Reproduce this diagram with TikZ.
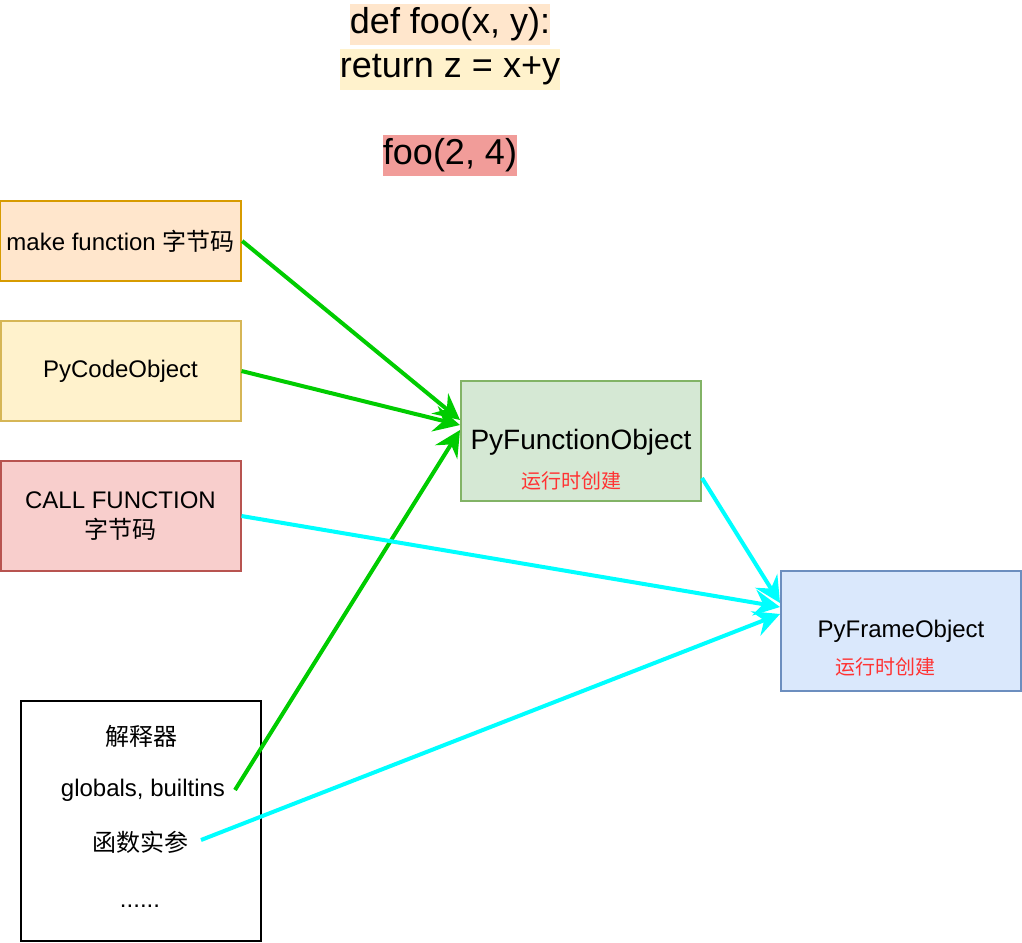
\documentclass[tikz,border=0pt]{standalone}
\usepackage{fontspec}
\setmainfont{Liberation Sans}
\newfontfamily\cjk{Noto Sans CJK SC}
\usetikzlibrary{arrows.meta}
\definecolor{orangefill}{HTML}{FFE6CC}
\definecolor{orangeline}{HTML}{D79B00}
\definecolor{yellowfill}{HTML}{FFF2CC}
\definecolor{yellowline}{HTML}{D6B656}
\definecolor{redfill}{HTML}{F8CECC}
\definecolor{redline}{HTML}{B85450}
\definecolor{greenfill}{HTML}{D5E8D4}
\definecolor{greenline}{HTML}{82B366}
\definecolor{bluefill}{HTML}{DAE8FC}
\definecolor{blueline}{HTML}{6C8EBF}
\definecolor{callbg}{HTML}{F19C99}
\definecolor{notered}{HTML}{FF3333}
\definecolor{arrgreen}{HTML}{00CC00}
\definecolor{arrcyan}{HTML}{00FFFF}
\tikzset{
  box/.style={draw, line width=1pt, minimum width=120pt, align=center, font=\fontsize{12}{15}\selectfont},
  codeline/.style={inner xsep=0pt, inner ysep=1.5pt, text height=13pt, text depth=4.5pt, font=\fontsize{18}{21}\selectfont},
  note/.style={text=notered, font=\fontsize{10}{12}\selectfont\cjk},
  item/.style={font=\fontsize{12}{15}\selectfont},
  link/.style={line width=2pt, -{Stealth[length=13pt, width=13pt, inset=4.5pt]}}
}
\begin{document}
\begin{tikzpicture}[x=0.5pt, y=-0.5pt]
\useasboundingbox (0,0) rectangle (1022,942);
% code at the top
\node[codeline, fill=orangefill] (defline) at (450,24.5) {def foo(x, y):};
\node[codeline, fill=yellowfill] (retline) at (450,69) {return z = x+y};
\node[codeline, fill=callbg] (callline) at (450,155.5) {foo(2, 4)};
% boxes on the left
\node[box, fill=orangefill, draw=orangeline, minimum height=40pt] (make) at (120.5,241) {make function {\cjk 字节码}};
\node[box, fill=yellowfill, draw=yellowline, minimum height=50pt] (code) at (120.5,371) {PyCodeObject};
\node[box, fill=redfill, draw=redline, minimum height=55pt] (call) at (120.5,516) {CALL FUNCTION\\{\cjk 字节码}};
% objects
\node[box, fill=greenfill, draw=greenline, minimum height=60pt] (func) at (581,441) {};
\node[font=\fontsize{14}{17}\selectfont] (functxt) at (581,442) {PyFunctionObject};
\node[note] (funcnote) at (571,481) {运行时创建};
\node[box, fill=bluefill, draw=blueline, minimum height=60pt] (frame) at (901,631) {};
\node[font=\fontsize{12}{15}\selectfont] (frametxt) at (901,631) {PyFrameObject};
\node[note] (framenote) at (885,667) {运行时创建};
% interpreter
\node[draw, line width=1pt, minimum width=120pt, minimum height=120pt] (interp) at (141,821) {};
\node[item, font=\fontsize{12}{15}\selectfont\cjk] (interptxt) at (141,736) {解释器};
\node[item] (globals) at (143,790) {globals, builtins};
\node[item, font=\fontsize{12}{15}\selectfont\cjk] (args) at (140,842) {函数实参};
\node[item] (more) at (140,906) {......};
\coordinate (globalsend) at (235,790);
\coordinate (argsend) at (201,840);
% arrows
\draw[link, arrgreen] (make.east) -- (func.west |- 0,420);
\draw[link, arrgreen] (code.east) -- (func.west |- 0,425);
\draw[link, arrgreen] (globalsend) -- (func.west |- 0,430);
\draw[link, arrcyan] (func.east |- 0,478) -- (frame.west |- 0,603);
\draw[link, arrcyan] (call.east) -- (frame.west |- 0,607);
\draw[link, arrcyan] (argsend) -- (frame.west |- 0,614);
\end{tikzpicture}
\end{document}
